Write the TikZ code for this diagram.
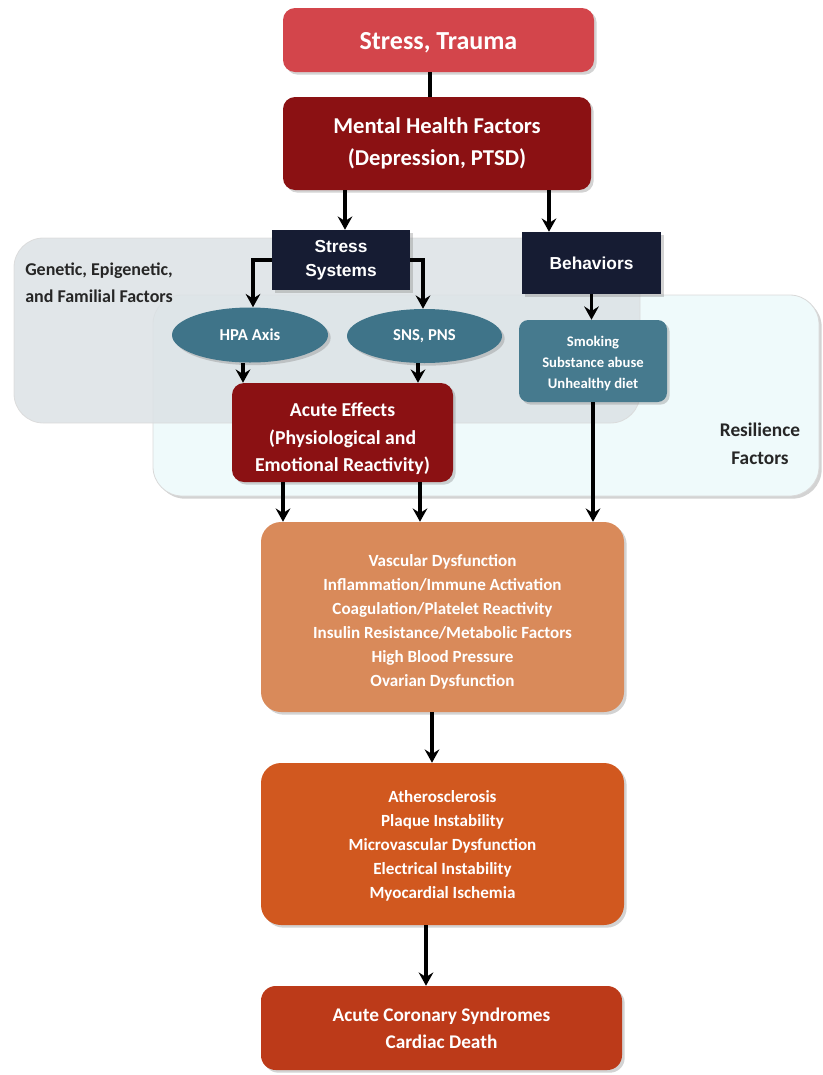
\documentclass[tikz,border=0pt]{standalone}
\usepackage{fontspec}
\setmainfont{Carlito}
\newfontfamily\arialb{Liberation Sans}
\usetikzlibrary{shapes.geometric,shadows,arrows.meta}
\definecolor{cst}{HTML}{D3454B}
\definecolor{cmh}{HTML}{8B1113}
\definecolor{cnavy}{HTML}{161C33}
\definecolor{cteal}{HTML}{3F7489}
\definecolor{csmk}{HTML}{467A8E}
\definecolor{cgray}{HTML}{DCE2E5}
\definecolor{ccyan}{HTML}{EFFAFB}
\definecolor{co1}{HTML}{D98A5A}
\definecolor{co2}{HTML}{D1581F}
\definecolor{co3}{HTML}{BC3A19}
\def\u{0.75pt}
\tikzset{
  shd/.style={drop shadow={opacity=0.35,shadow xshift=2pt,shadow yshift=-2pt}},
  rbox/.style={shd,rounded corners=9pt,text=white,font=\bfseries,align=center,inner sep=0pt},
  navybox/.style={shd,fill=cnavy,text=white,font=\arialb\bfseries\fontsize{13pt}{18pt}\selectfont,align=center,inner sep=0pt},
  ell/.style={shd,ellipse,fill=cteal,text=white,font=\bfseries\fontsize{12.5pt}{14pt}\selectfont,inner sep=0pt},
  arr/.style={line width=2.6pt,-{Stealth[length=10pt,width=11pt,inset=3.5pt]}},
  ln/.style={line width=2.6pt},
  lbl/.style={font=\bfseries\fontsize{13.5pt}{20pt}\selectfont,text=black!85,align=left,anchor=north west,inner sep=0pt}
}
\begin{document}
\begin{tikzpicture}[x=0.75pt,y=-0.75pt]
\useasboundingbox (0,0) rectangle (822,1075);
% background regions
\fill[ccyan,draw=black!15,line width=0.6pt,rounded corners=22pt,shd] (153,295) rectangle (819,496);
\fill[cgray,opacity=0.85,draw=black!15,line width=0.6pt,rounded corners=22pt] (14,238) rectangle (640,423);
\node[lbl] (gen) at (25,263) {Genetic, Epigenetic,\\and Familial Factors};
\node[lbl,align=center,anchor=center,font=\bfseries\fontsize{14.5pt}{21pt}\selectfont] (res) at (760,444) {Resilience\\Factors};
% nodes
\node[rbox,fill=cst,minimum width=311*\u,minimum height=64*\u,font=\bfseries\fontsize{19.5pt}{22pt}\selectfont] (st) at (438.5,40) {\rule{0pt}{17pt}Stress, Trauma};
\node[rbox,fill=cmh,minimum width=308*\u,minimum height=93*\u,font=\bfseries\fontsize{17pt}{24pt}\selectfont] (mh) at (437,143.5) {Mental Health Factors\\(Depression, PTSD)};
\node[navybox,minimum width=138*\u,minimum height=60*\u] (ss) at (341,260) {Stress\\Systems};
\node[navybox,minimum width=139*\u,minimum height=62*\u] (beh) at (591.5,263) {Behaviors};
\node[ell,minimum width=156*\u,minimum height=55*\u] (hpa) at (250,335) {HPA Axis};
\node[ell,minimum width=155*\u,minimum height=54*\u] (sns) at (424.5,336) {SNS, PNS};
\node[rbox,fill=cmh,minimum width=221*\u,minimum height=99*\u,font=\bfseries\fontsize{14.8pt}{20.6pt}\selectfont] (ac) at (342.5,432.5) {\rule{0pt}{20pt}Acute Effects\\(Physiological and\\Emotional Reactivity)};
\node[rbox,fill=csmk,rounded corners=7pt,minimum width=148*\u,minimum height=82*\u,font=\bfseries\fontsize{11pt}{15.75pt}\selectfont] (smk) at (593,361) {\rule{0pt}{11pt}Smoking\\Substance abuse\\Unhealthy diet};
\node[rbox,fill=co1,rounded corners=15pt,minimum width=363*\u,minimum height=190*\u,font=\bfseries\fontsize{12.8pt}{18pt}\selectfont] (o1) at (442.5,617) {\rule{0pt}{16.5pt}Vascular Dysfunction\\Inflammation/Immune Activation\\Coagulation/Platelet Reactivity\\Insulin Resistance/Metabolic Factors\\High Blood Pressure\\Ovarian Dysfunction};
\node[rbox,fill=co2,rounded corners=15pt,minimum width=363*\u,minimum height=162*\u,font=\bfseries\fontsize{12.8pt}{18pt}\selectfont] (o2) at (442.5,844) {\rule{0pt}{12pt}Atherosclerosis\\Plaque Instability\\Microvascular Dysfunction\\Electrical Instability\\Myocardial Ischemia};
\node[rbox,fill=co3,rounded corners=11pt,minimum width=361*\u,minimum height=84*\u,font=\bfseries\fontsize{14.5pt}{20pt}\selectfont] (o3) at (441.5,1028) {Acute Coronary Syndromes\\Cardiac Death};
% connectors
\draw[ln] ([xshift=-8.5*\u]st.south) -- ([xshift=-7*\u]mh.north);
\draw[arr] ([xshift=4*\u]ss.north |- mh.south) -- ([xshift=4*\u]ss.north);
\draw[arr] ([xshift=-42.5*\u]beh.north |- mh.south) -- ([xshift=-42.5*\u]beh.north);
\draw[arr] (ss.west) -| ([xshift=3*\u]hpa.north);
\draw[arr] (ss.east) -| ([xshift=-1.5*\u]sns.north);
\draw[arr] ([xshift=-7*\u]hpa.south) -- ([xshift=-7*\u]hpa.south |- ac.north);
\draw[arr] ([xshift=-6.5*\u]sns.south) -- ([xshift=-6.5*\u]sns.south |- ac.north);
\draw[arr] (beh.south) -- (beh.south |- smk.north);
\draw[arr] (smk.south) -- (smk.south |- o1.north);
\draw[arr] ([xshift=-59.5*\u]ac.south) -- ([xshift=-59.5*\u]ac.south |- o1.north);
\draw[arr] ([xshift=77.5*\u]ac.south) -- ([xshift=77.5*\u]ac.south |- o1.north);
\draw[arr] ([xshift=-10.5*\u]o1.south) -- ([xshift=-10.5*\u]o1.south |- o2.north);
\draw[arr] ([xshift=-16.5*\u]o2.south) -- ([xshift=-16.5*\u]o2.south |- o3.north);
\end{tikzpicture}
\end{document}
